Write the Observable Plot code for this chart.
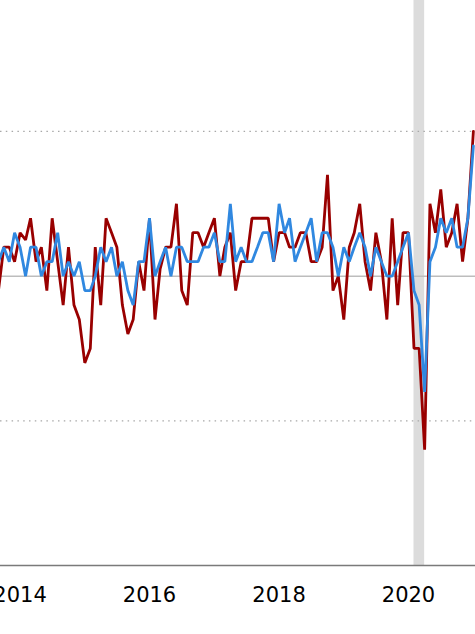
<!DOCTYPE html>
<html>
<head>
<meta charset="utf-8">
<script src="https://cdn.jsdelivr.net/npm/d3@7"></script>
<script src="https://cdn.jsdelivr.net/npm/@observablehq/plot@0.6"></script>
<style>
  html, body { margin: 0; padding: 0; background: #fff; }
  #chart { width: 475px; height: 634px; overflow: hidden; }
</style>
</head>
<body>
<div id="chart"></div>
<script>
// Monthly series starting September 2013
const startMonth = [2013, 8]; // year, zero-based month

const redValues = [
  -0.1, 0.2, 0.2, 0.1,
  0.3, 0.25, 0.4, 0.1, 0.2, -0.1, 0.4, 0.1, -0.2, 0.2, -0.2, -0.3,
  -0.6, -0.5, 0.2, -0.2, 0.4, 0.3, 0.2, -0.2, -0.4, -0.3, 0.1, -0.1,
  0.4, -0.3, 0.05, 0.2, 0.2, 0.5, -0.1, -0.2, 0.3, 0.3, 0.2, 0.3,
  0.4, 0.0, 0.2, 0.3, -0.1, 0.1, 0.1, 0.4, 0.4, 0.4, 0.4, 0.1,
  0.3, 0.3, 0.2, 0.2, 0.3, 0.3, 0.1, 0.1, 0.2, 0.7, -0.1, 0.0,
  -0.3, 0.2, 0.3, 0.5, 0.1, -0.1, 0.3, 0.1, -0.3, 0.4, -0.2, 0.3,
  0.3, -0.5, -0.5, -1.2, 0.5, 0.3, 0.6, 0.2, 0.3, 0.5, 0.1, 0.4,
  1.0
];

const blueValues = [
  0.1, 0.2, 0.1, 0.3,
  0.2, 0.0, 0.2, 0.2, 0.0, 0.1, 0.1, 0.3, 0.0, 0.1, 0.0, 0.1,
  -0.1, -0.1, 0.0, 0.2, 0.1, 0.2, 0.0, 0.1, -0.1, -0.2, 0.1, 0.1,
  0.4, 0.0, 0.1, 0.2, 0.0, 0.2, 0.2, 0.1, 0.1, 0.1, 0.2, 0.2,
  0.3, 0.1, 0.1, 0.5, 0.1, 0.2, 0.1, 0.1, 0.2, 0.3, 0.3, 0.1,
  0.5, 0.3, 0.4, 0.1, 0.2, 0.3, 0.4, 0.1, 0.3, 0.3, 0.2, 0.0,
  0.2, 0.1, 0.2, 0.3, 0.2, 0.0, 0.2, 0.1, 0.0, 0.0, 0.1, 0.2,
  0.3, -0.1, -0.2, -0.8, 0.1, 0.2, 0.4, 0.3, 0.4, 0.2, 0.2, 0.4,
  0.9
];

const tickYears = [2014, 2016, 2018, 2020];
const gridValues = [1, -1];
const recession = [{start: "2020-02-01", end: "2020-04-01"}];

const start = new Date(Date.UTC(startMonth[0], startMonth[1], 1));
const monthOf = i => d3.utcMonth.offset(start, i);
const red = redValues.map((v, i) => ({date: monthOf(i), value: v}));
const blue = blueValues.map((v, i) => ({date: monthOf(i), value: v}));
const recessionRows = recession.map(r => ({x1: new Date(r.start), x2: new Date(r.end)}));
const tickDates = tickYears.map(y => new Date(Date.UTC(y, 0, 1)));

const chart = Plot.plot({
  width: 475,
  height: 634,
  marginLeft: 0,
  marginRight: 0,
  marginTop: 0,
  marginBottom: 69,
  style: {background: "#fff", fontFamily: "DejaVu Sans, Verdana, sans-serif", color: "#000"},
  x: {type: "utc", domain: [new Date(Date.UTC(2013, 8, 12, 12)), new Date(Date.UTC(2021, 0, 12, 22))], axis: null},
  y: {domain: [-2, 1.905], axis: null},
  marks: [
    Plot.rectX(recessionRows, {x1: "x1", x2: "x2", y1: -2, y2: 1.905, fill: "#dcdcdc"}),
    Plot.ruleY(gridValues, {stroke: "#a8a8a8", strokeWidth: 1.3, strokeDasharray: "1.5,4.3"}),
    Plot.ruleY([0], {stroke: "#bdbdbd", strokeWidth: 1.5}),
    Plot.line(red, {x: "date", y: "value", stroke: "#990000", strokeWidth: 2.8, strokeLinejoin: "miter", clip: true}),
    Plot.line(blue, {x: "date", y: "value", stroke: "#3088e0", strokeWidth: 2.8, strokeLinejoin: "miter", clip: true}),
    Plot.ruleY([-2], {stroke: "#7a7a7a", strokeWidth: 1.6}),
    Plot.axisX({ticks: tickDates, tickFormat: d3.utcFormat("%Y"), tickSize: 0, tickPadding: 22, fontSize: 21, fill: "#000"})
  ]
});
document.getElementById("chart").append(chart);
</script>
</body>
</html>
